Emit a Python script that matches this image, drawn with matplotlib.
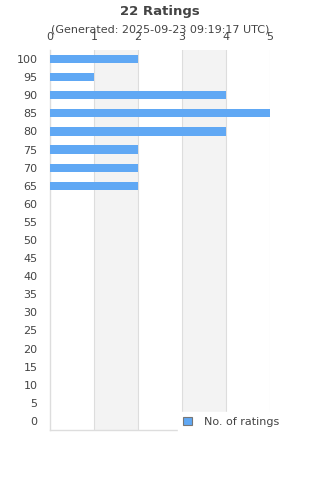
"""
Ratings histogram, horizontal bars
"""

import matplotlib
matplotlib.use('Agg')
import matplotlib.pyplot as plt
from matplotlib.patches import Patch

ratings = [100, 95, 90, 85, 80, 75, 70, 65, 60, 55, 50,
           45, 40, 35, 30, 25, 20, 15, 10, 5, 0]
counts  = [2, 1, 4, 5, 4, 2, 2, 2, 0, 0, 0,
           0, 0, 0, 0, 0, 0, 0, 0, 0, 0]
x_ticks = [0, 1, 2, 3, 4, 5]

text_color = '#444444'
bar_color  = '#60a8f4'
grid_color = '#dddddd'

fig = plt.figure(figsize=(3.2, 4.8), dpi=100)
ax = fig.add_axes([50 / 320, 50 / 480, 220 / 320, 380 / 480])

positions = list(range(len(ratings)))
ax.barh(positions, counts, height=0.45, color=bar_color, zorder=3)

ax.set_xlim(0, 5)
ax.set_ylim(len(ratings) - 0.5, -0.5)

# alternating bands behind the bars
for i in range(len(x_ticks) - 1):
    if i % 2 == 1:
        ax.axvspan(x_ticks[i], x_ticks[i + 1], color='#f3f3f3', zorder=0, lw=0)
for t in x_ticks[1:]:
    ax.axvline(t, color=grid_color, linewidth=0.8, zorder=1)

ax.xaxis.tick_top()
ax.set_xticks(x_ticks)
ax.set_yticks(positions)
ax.set_yticklabels([str(r) for r in ratings])
ax.tick_params(axis='both', length=0, labelsize=8, colors=text_color)
ax.tick_params(axis='x', pad=6)
ax.tick_params(axis='y', pad=9)

for side in ('top', 'right'):
    ax.spines[side].set_visible(False)
for side in ('left', 'bottom'):
    ax.spines[side].set_color(grid_color)
    ax.spines[side].set_linewidth(1.0)

fig.text(0.5, 1 - 11 / 480, '22 Ratings', ha='center', va='center',
         fontsize=9.5, fontweight='bold', color=text_color)
fig.text(0.5, 1 - 30 / 480, '(Generated: 2025-09-23 09:19:17 UTC)', ha='center',
         va='center', fontsize=8, color=text_color)

handle = Patch(facecolor=bar_color, edgecolor='#777777', linewidth=0.8)
leg = fig.legend([handle], ['No. of ratings'], loc='lower left',
                 bbox_to_anchor=(178 / 320, 48 / 480), frameon=True,
                 fancybox=False, framealpha=1, facecolor='white', edgecolor='white',
                 fontsize=8, handlelength=0.8, handleheight=0.8,
                 handletextpad=1.1, borderpad=0.45, borderaxespad=0)
for t in leg.get_texts():
    t.set_color(text_color)
leg.set_zorder(10)

fig.savefig('out.png', dpi=100)
